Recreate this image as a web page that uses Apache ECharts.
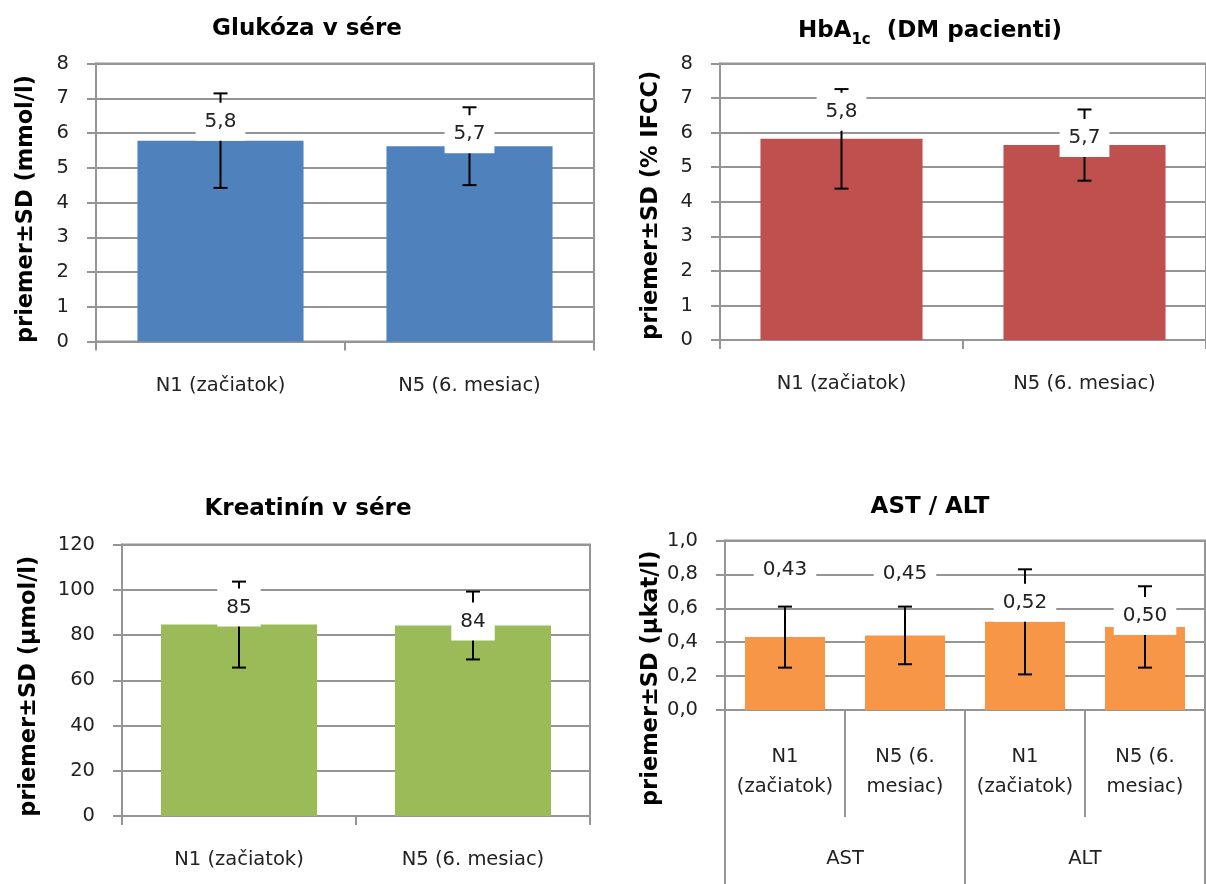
<!DOCTYPE html>
<html>
<head>
<meta charset="utf-8">
<script src="https://cdn.jsdelivr.net/npm/echarts@6/dist/echarts.min.js"></script>
<style>
html,body{margin:0;padding:0;background:#fff;}
#chart{width:1206px;height:884px;}
</style>
</head>
<body>
<div id="chart"></div>
<script>
// ---------- DATA ----------
const cats2 = ['N1 (začiatok)', 'N5 (6. mesiac)'];

const glukTitle = 'Glukóza v sére';
const glukMean = [5.78, 5.62];
const glukSD = [1.36, 1.12];
const glukLabels = ['5,8', '5,7'];

const hbaTitle = '{a|HbA}{s|1c}{a|  (DM pacienti)}';
const hbaMean = [5.82, 5.64];
const hbaSD = [1.44, 1.03];
const hbaLabels = ['5,8', '5,7'];

const kreaTitle = 'Kreatinín v sére';
const kreaMean = [84.6, 84.2];
const kreaSD = [19.0, 15.0];
const kreaLabels = ['85', '84'];

const enzTitle = 'AST / ALT';
const enzCats = ['N1\n(začiatok)', 'N5 (6.\nmesiac)', 'N1\n(začiatok)', 'N5 (6.\nmesiac)'];
const enzGroups = ['AST', 'ALT'];
const enzMean = [0.43, 0.44, 0.52, 0.49];
const enzSD = [0.18, 0.17, 0.31, 0.24];
const enzLabels = ['0,43', '0,45', '0,52', '0,50'];

const yNames = ['priemer±SD (mmol/l)', 'priemer±SD (% IFCC)', 'priemer±SD (µmol/l)', 'priemer±SD (µkat/l)'];

// ---------- LAYOUT / STYLE ----------
const FONT = 'DejaVu Sans';
const GRID_C = '#959595';
const TXT_C = '#222222';

const charts = [
  { mean: glukMean, sd: glukSD, labels: glukLabels, color: '#4F81BD',
    grid: {left: 96, top: 63.5, width: 498, height: 278},
    y: {min: 0, max: 8, interval: 1, dec: 0}, nameGap: 58, namePad: 13,
    lift: [19, 12], title: {x: 302, y: 13} },
  { mean: hbaMean, sd: hbaSD, labels: hbaLabels, color: '#C0504D',
    grid: {left: 720, top: 63.5, width: 495, height: 276.5},
    y: {min: 0, max: 8, interval: 1, dec: 0}, nameGap: 57, namePad: 7,
    lift: [27, 7], title: {x: 925, y: 9} },
  { mean: kreaMean, sd: kreaSD, labels: kreaLabels, color: '#9BBB59',
    grid: {left: 122, top: 544.5, width: 468, height: 271.5},
    y: {min: 0, max: 120, interval: 20, dec: 0}, nameGap: 81, namePad: 12,
    lift: [17, 4], title: {x: 303, y: 493} },
  { mean: enzMean, sd: enzSD, labels: enzLabels, color: '#F79646',
    grid: {left: 725, top: 540.5, width: 480, height: 169.5},
    y: {min: 0, max: 1, interval: 0.2, dec: 1}, nameGap: 59, namePad: 106,
    lift: [67, 62, 19, 11], title: {x: 925, y: 491} }
];

function fmt(dec) {
  return v => v.toFixed(dec).replace('.', ',');
}

function errRender(cfg) {
  return function (params, api) {
    const i = params.dataIndex;
    const m = cfg.mean[i], s = cfg.sd[i];
    const top = api.coord([i, m + s]);
    const bot = api.coord([i, m - s]);
    const bt = api.coord([i, m]);
    const hw = 7;
    const ls = {stroke: '#000', lineWidth: 2};
    return {
      type: 'group',
      children: [
        {type: 'line', shape: {x1: top[0], y1: top[1], x2: bot[0], y2: bot[1]}, style: ls},
        {type: 'line', shape: {x1: top[0] - hw, y1: top[1], x2: top[0] + hw, y2: top[1]}, style: ls},
        {type: 'line', shape: {x1: bot[0] - hw, y1: bot[1], x2: bot[0] + hw, y2: bot[1]}, style: ls},
        {type: 'text', x: bt[0], y: bt[1] - cfg.lift[i],
          style: {text: cfg.labels[i], align: 'center', verticalAlign: 'middle',
            fontFamily: FONT, fontSize: 20, fill: TXT_C,
            backgroundColor: '#ffffff', padding: [9, 9, 9, 9]}}
      ]
    };
  };
}

const option = {
  backgroundColor: '#ffffff',
  animation: false,
  title: [],
  grid: [],
  xAxis: [],
  yAxis: [],
  series: []
};

const titles = [glukTitle, hbaTitle, kreaTitle, enzTitle];
charts.forEach((c, k) => {
  option.title.push({
    text: titles[k], left: c.title.x, top: c.title.y, textAlign: 'center',
    textStyle: {
      fontFamily: FONT, fontSize: 23, fontWeight: 'bold', color: '#000',
      rich: {
        a: {fontFamily: FONT, fontSize: 23, fontWeight: 'bold', color: '#000', lineHeight: 34, verticalAlign: 'middle'},
        s: {fontFamily: FONT, fontSize: 15, fontWeight: 'bold', color: '#000', lineHeight: 14, verticalAlign: 'bottom'}
      }
    }
  });
  option.grid.push(Object.assign({show: true, borderColor: GRID_C, borderWidth: 2, backgroundColor: 'transparent'}, c.grid));
  option.yAxis.push({
    type: 'value', gridIndex: k, min: c.y.min, max: c.y.max, interval: c.y.interval,
    axisLine: {show: true, lineStyle: {color: GRID_C, width: 2}},
    axisTick: {show: true, length: 9, lineStyle: {color: GRID_C, width: 2}},
    splitLine: {show: true, lineStyle: {color: GRID_C, width: 2}},
    axisLabel: {margin: 27, fontFamily: FONT, fontSize: 19.5, color: TXT_C, formatter: fmt(c.y.dec)},
    name: yNames[k], nameLocation: 'middle', nameGap: c.nameGap, nameRotate: 90,
    nameTextStyle: {fontFamily: FONT, fontSize: 22.5, fontWeight: 'bold', color: '#000',
      padding: [0, c.namePad, 0, 0]}
  });
});

// x axes
[0, 1, 2].forEach(k => {
  option.xAxis.push({
    type: 'category', gridIndex: k, data: cats2,
    axisLine: {show: true, lineStyle: {color: GRID_C, width: 2}},
    axisTick: {show: true, interval: 0, length: 9, lineStyle: {color: GRID_C, width: 2}},
    axisLabel: {margin: 34, interval: 0, fontFamily: FONT, fontSize: 19.5, color: TXT_C},
    splitLine: {show: false}
  });
});
option.xAxis.push({
  type: 'category', gridIndex: 3, data: enzCats,
  axisLine: {show: true, lineStyle: {color: GRID_C, width: 2}},
  axisTick: {show: true, interval: 0, length: 107, lineStyle: {color: GRID_C, width: 2}},
  axisLabel: {margin: 32, interval: 0, fontFamily: FONT, fontSize: 19.5, lineHeight: 30, color: TXT_C},
  splitLine: {show: false}
});
option.xAxis.push({
  type: 'category', gridIndex: 3, data: enzGroups, position: 'bottom',
  axisLine: {show: false},
  axisTick: {show: true, interval: 0, length: 180, lineStyle: {color: GRID_C, width: 2}},
  axisLabel: {margin: 139, interval: 0, fontFamily: FONT, fontSize: 19.5, color: TXT_C},
  splitLine: {show: false}
});

charts.forEach((c, k) => {
  option.series.push({
    type: 'bar', xAxisIndex: k, yAxisIndex: k, z: 2,
    data: c.mean, barWidth: '66.7%',
    itemStyle: {color: c.color}
  });
  option.series.push({
    type: 'custom', xAxisIndex: k, yAxisIndex: k, z: 5, clip: false,
    data: c.mean.map((m, i) => [i, m]),
    encode: {x: 0, y: 1},
    renderItem: errRender(c)
  });
});

const chart = echarts.init(document.getElementById('chart'), null, {renderer: 'canvas'});
chart.setOption(option);
</script>
</body>
</html>
